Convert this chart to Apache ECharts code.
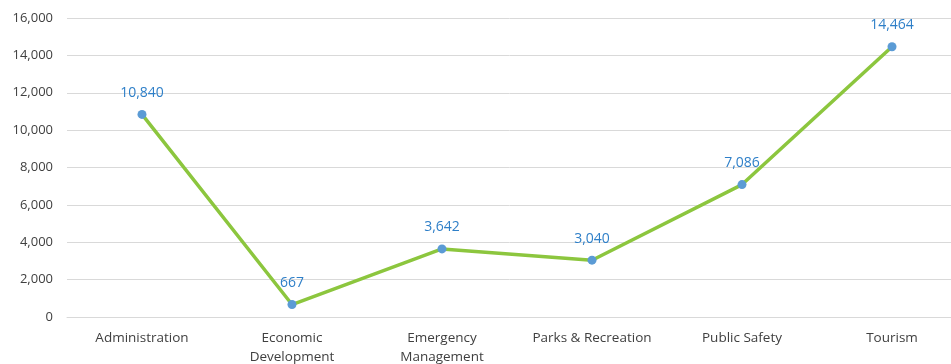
<!DOCTYPE html>
<html><head><meta charset="utf-8">
<script src="https://cdn.jsdelivr.net/npm/echarts@6/dist/echarts.min.js"></script>
<style>html,body{margin:0;padding:0;background:#fff}#c{width:951px;height:364px}</style>
</head><body><div id="c"></div>
<script>
const categories = ['Administration', 'Economic\nDevelopment', 'Emergency\nManagement', 'Parks & Recreation', 'Public Safety', 'Tourism'];
const values = [10840, 667, 3642, 3040, 7086, 14464];
const yTicks = { min: 0, max: 16000, interval: 2000 };

const chart = echarts.init(document.getElementById('c'));
const font = 'Open Sans, Liberation Sans, sans-serif';
chart.setOption({
  animation: false,
  grid: { left: 67, top: 18, right: -16, bottom: 47, outerBoundsMode: 'none', containLabel: false },
  xAxis: {
    type: 'category', data: categories,
    axisLine: { show: true, lineStyle: { color: '#d9d9d9', width: 1 } },
    axisTick: { show: false },
    axisLabel: { color: '#404040', fontFamily: font, fontSize: 13.5, margin: 12, lineHeight: 19, interval: 0 }
  },
  yAxis: {
    type: 'value', min: yTicks.min, max: yTicks.max, interval: yTicks.interval,
    axisLine: { show: false }, axisTick: { show: false },
    splitLine: { lineStyle: { color: '#d9d9d9', width: 1 } },
    axisLabel: { color: '#404040', fontFamily: font, fontSize: 13, margin: 14,
      formatter: v => v.toLocaleString('en-US') }
  },
  series: [{
    type: 'line', data: values,
    symbol: 'circle', symbolSize: 9,
    lineStyle: { color: '#8cc63e', width: 3.5 },
    itemStyle: { color: '#5b9bd5' },
    label: { show: true, position: 'top', distance: 10, color: '#2e7fc8', fontFamily: font, fontSize: 14,
      formatter: p => p.value.toLocaleString('en-US') }
  }]
});
</script></body></html>
